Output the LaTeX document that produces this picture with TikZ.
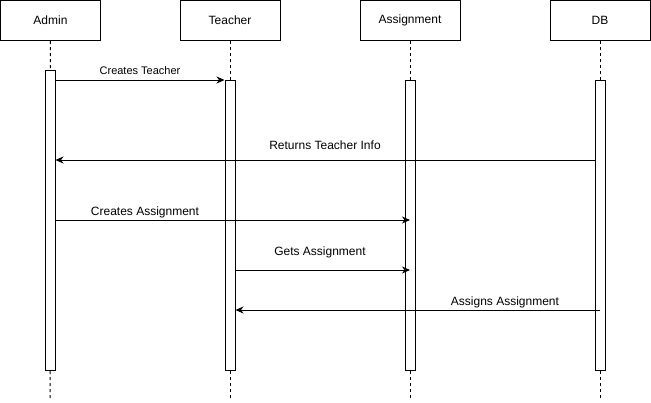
\documentclass[tikz,border=0pt]{standalone}
\usepackage{fontspec}
\setmainfont{Liberation Sans}
\usetikzlibrary{arrows.meta}
\begin{document}
\begin{tikzpicture}[x=1pt,y=-1pt,
  actor/.style={draw, line width=1pt, minimum width=100pt, minimum height=40pt, inner sep=0pt, font=\fontsize{12}{14}\selectfont},
  bar/.style={draw, fill=white, line width=1pt, minimum width=10pt, inner sep=0pt, anchor=north},
  life/.style={line width=1pt, dash pattern=on 3pt off 3pt},
  msg/.style={line width=1pt, -{Stealth[length=8pt,width=7pt,inset=2.5pt]}},
  lbl/.style={font=\fontsize{12}{14}\selectfont, inner sep=0pt},
  slbl/.style={font=\fontsize{11}{13}\selectfont, inner sep=0pt}]
\useasboundingbox (0,0) rectangle (651,402);
% actors
\node[actor] (admin) at (50.5,20.5) {Admin};
\node[actor] (teacher) at (230,20.5) {Teacher};
\node[actor] (assign) at (410,20.5) {Assignment};
\node[actor] (db) at (600,20.5) {DB};
% lifeline ends
\coordinate (aend) at (50,400);
\coordinate (tend) at (230,400);
\coordinate (send) at (410,400);
\coordinate (dend) at (600,400);
\draw[life] (admin.south) -- (aend);
\draw[life] (teacher.south) -- (tend);
\draw[life] (assign.south) -- (send);
\draw[life] (db.south) -- (dend);
% activation bars
\node[bar, minimum height=300pt] (abar) at (50,70) {};
\node[bar, minimum height=290pt] (tbar) at (230,80) {};
\node[bar, minimum height=290pt] (sbar) at (410,80) {};
\node[bar, minimum height=290pt] (dbar) at (600,80) {};
% message levels
\coordinate (y160) at (0,160);
\coordinate (y220) at (0,220);
\coordinate (y270) at (0,270);
\coordinate (y310) at (0,310);
% messages
\draw[msg] (abar.east |- tbar.north) -- (tbar.north west);
\node[slbl] (l1) at (140,71) {Creates Teacher};
\draw[msg] (dbar.west |- y160) -- (abar.east |- y160);
\node[lbl] (l2) at (325,145) {Returns Teacher Info};
\draw[msg] (abar.east |- y220) -- (sbar.center |- y220);
\node[lbl] (l3) at (145,212.5) {Creates Assignment};
\draw[msg] (tbar.east |- y270) -- (sbar.center |- y270);
\node[lbl] (l4) at (320,252.5) {Gets Assignment};
\draw[msg] (dbar.center |- y310) -- (tbar.east |- y310);
\node[lbl] (l5) at (505,302.5) {Assigns Assignment};
\end{tikzpicture}
\end{document}
